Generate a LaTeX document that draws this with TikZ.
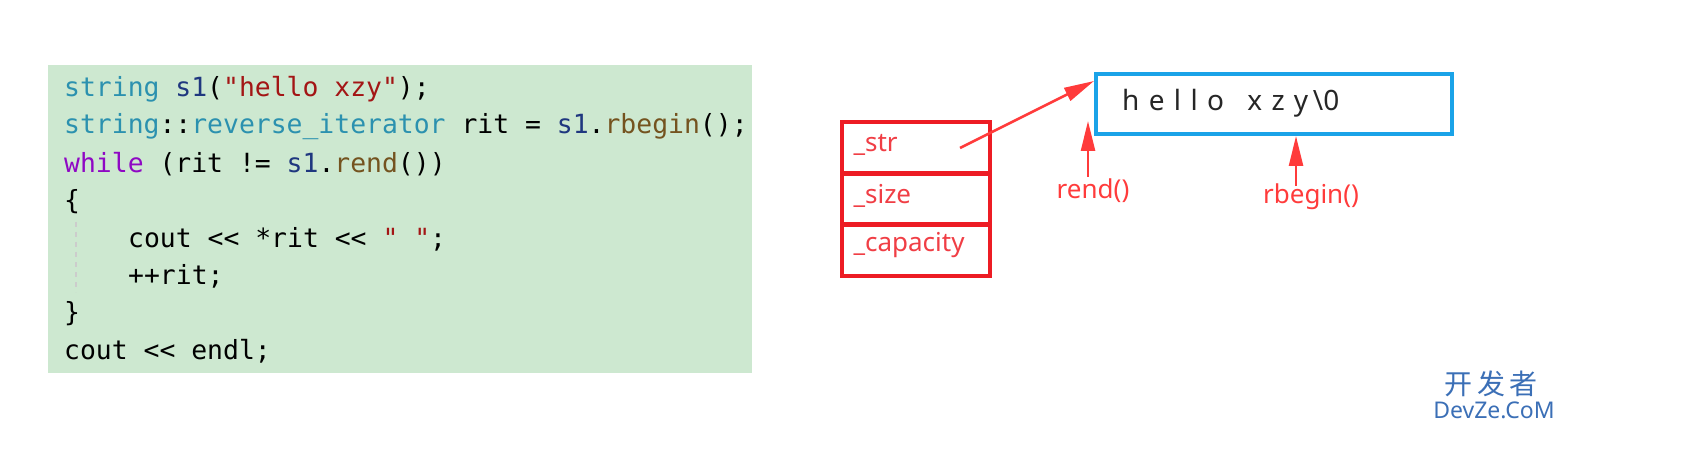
\documentclass[tikz,border=0pt]{standalone}
\usepackage{fontspec}
\setmainfont{Noto Sans}
\setmonofont{DejaVu Sans Mono}
\newfontfamily\cjk{Noto Sans CJK SC}
\usetikzlibrary{arrows.meta}
\definecolor{ty}{HTML}{2B91AF}
\definecolor{va}{HTML}{1F377F}
\definecolor{st}{HTML}{A31515}
\definecolor{fn}{HTML}{74531F}
\definecolor{kw}{HTML}{8F08C4}
\definecolor{bg}{HTML}{CDE8D0}
\definecolor{rd}{HTML}{ED1C24}
\definecolor{ar}{HTML}{FF3B3B}
\definecolor{bl}{HTML}{1AA3E8}
\definecolor{wm}{HTML}{3B6FB6}
\begin{document}
\begin{tikzpicture}[x=1pt,y=-1pt,
  code/.style={anchor=west,inner sep=0pt,font=\fontsize{26.4}{28}\ttfamily},
  cell/.style={draw=rd,line width=4pt,minimum width=148pt,minimum height=51pt,inner sep=0pt},
  lab/.style={anchor=west,text=rd!85!white,font=\fontsize{26}{28}\selectfont},
  rlab/.style={text=ar,font=\fontsize{26}{28}\selectfont,inner sep=0pt},
  arr/.style={draw=ar,line width=2.5pt,-{Triangle[length=30pt,width=14pt]}}]
\useasboundingbox (0,0) rectangle (1685,462);
\fill[bg] (48,65) rectangle (752,373);
\node[code] (l1) at (64,89) {\textcolor{ty}{string} \textcolor{va}{s1}(\textcolor{st}{"hello xzy"});};
\node[code] (l2) at (64,127) {\textcolor{ty}{string}::\textcolor{ty}{reverse\_iterator} rit = \textcolor{va}{s1}.\textcolor{fn}{rbegin}();};
\node[code] (l3) at (64,164) {\textcolor{kw}{while} (rit != \textcolor{va}{s1}.\textcolor{fn}{rend}())};
\node[code] (l4) at (64,202) {\{};
\node[code] (l5) at (128,239) {cout << *rit << \textcolor{st}{" "};};
\node[code] (l6) at (128,276) {++rit;};
\node[code] (l7) at (64,314) {\}};
\node[code] (l8) at (64,351) {cout << endl;};
\draw[black!20,line width=1.2pt,dash pattern=on 5pt off 5pt] (76,222) -- (76,292);
\node[cell] (c1) at (916,148) {};
\node[cell] (c2) at (916,200) {};
\node[cell] (c3) at (916,250) {};
\node[lab] at (850,145) {\_str};
\node[lab] at (850,196) {\_size};
\node[lab] at (850,245) {\_capacity};
\node[draw=bl,line width=4pt,minimum width=356pt,minimum height=60pt,inner sep=0pt] (buf) at (1274,104) {};
\node[anchor=west,inner sep=0pt,text=black!85,font=\fontsize{28}{30}\selectfont] (hs) at (1122,103) {h\,\,e\,\,l\,\,l\,\,o\,\,\,\,\,x\,\,z\,\,y\,\textbackslash0};
\coordinate (s) at (960,148);
\coordinate (t) at (1094,81);
\draw[arr] (s) -- (t);
\node[rlab] (re) at (1093,191) {rend()};
\node[rlab] (rb) at (1311,197) {rbegin()};
\coordinate (a1) at (1088,177);
\coordinate (b1) at (1088,121);
\coordinate (a2) at (1296,186);
\coordinate (b2) at (1296,136);
\draw[arr] (a1) -- (b1);
\draw[arr] (a2) -- (b2);
\node[text=wm,font=\cjk\fontsize{28}{30}\selectfont,inner sep=0pt] (w1) at (1491,384) {开\,发\,者};
\node[text=wm,font=\fontsize{23}{24}\selectfont,inner sep=0pt] (w2) at (1494,410) {DevZe.CoM};
\end{tikzpicture}
\end{document}
